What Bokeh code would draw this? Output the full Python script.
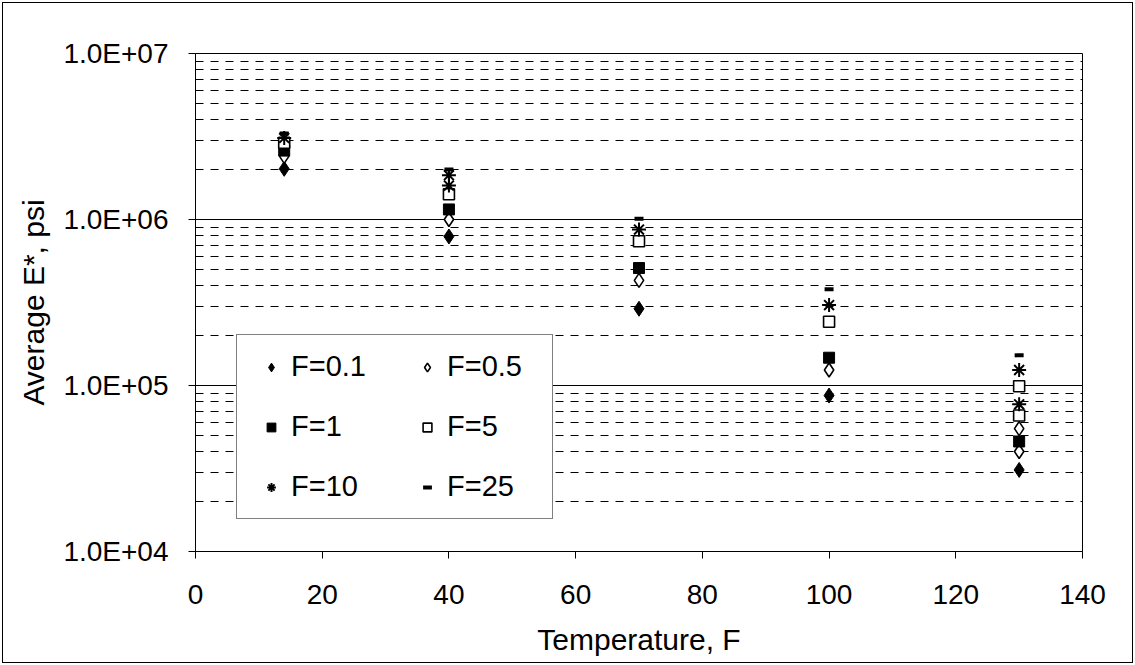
from bokeh.plotting import figure
from bokeh.models import (Range1d, FixedTicker, CustomJSTickFormatter, Legend, LegendItem)
from bokeh.embed import file_html
from bokeh.resources import INLINE

# ---- data ----
series_names = ["F=0.1", "F=0.5", "F=1", "F=5", "F=10", "F=25"]
t_f01 = [14, 40, 70, 100, 130]
e_f01 = [2.02e6, 7.9e5, 2.9e5, 8.7e4, 3.1e4]
t_f05 = [14, 40, 70, 100, 130, 130]
e_f05 = [2.4e6, 1.0e6, 4.3e5, 1.24e5, 5.5e4, 4.0e4]
t_f1 = [14, 40, 70, 100, 130]
e_f1 = [2.6e6, 1.15e6, 5.1e5, 1.47e5, 4.6e4]
t_f5 = [14, 40, 70, 100, 130, 130]
e_f5 = [2.9e6, 1.42e6, 7.4e5, 2.42e5, 9.9e4, 6.6e4]
t_f10 = [14, 40, 40, 70, 100, 130, 130]
e_f10 = [3.1e6, 1.85e6, 1.6e6, 8.7e5, 3.05e5, 1.24e5, 7.7e4]
t_f25 = [14, 40, 70, 100, 130]
e_f25 = [3.3e6, 2.0e6, 1.01e6, 3.8e5, 1.52e5]

x_ticks = [0, 20, 40, 60, 80, 100, 120, 140]
y_ticks = [1e4, 1e5, 1e6, 1e7]
y_tick_labels = ["1.0E+04", "1.0E+05", "1.0E+06", "1.0E+07"]
y_minor = [k * 10 ** e for e in (4, 5, 6) for k in range(2, 10)]

FONT = "Liberation Sans"

p = figure(width=1135, height=665, output_backend="svg", toolbar_location=None,
           y_axis_type="log", x_range=Range1d(0, 140), y_range=Range1d(1e4, 1e7),
           min_border_left=195, min_border_right=53, min_border_top=53, min_border_bottom=114)
p.styles = {"outline": "1px solid black", "outline-offset": "-3px", "background-color": "white"}
p.outline_line_color = "black"
p.outline_line_width = 1
p.background_fill_color = "white"
p.border_fill_color = None

# axes
p.xaxis.ticker = FixedTicker(ticks=x_ticks)
p.yaxis.ticker = FixedTicker(ticks=y_ticks, minor_ticks=y_minor)
p.yaxis.formatter = CustomJSTickFormatter(args=dict(yt=y_ticks, yl=y_tick_labels), code="""
for (let i = 0; i < yt.length; i++) {
  if (Math.abs(Math.log10(tick) - Math.log10(yt[i])) < 1e-6) return yl[i];
}
return "";
""")
for ax in (p.xaxis[0], p.yaxis[0]):
    ax.axis_line_color = "black"
    ax.major_tick_line_color = "black"
    ax.major_tick_out = 7
    ax.major_tick_in = 0
    ax.minor_tick_line_color = None
    ax.major_label_text_font = FONT
    ax.major_label_text_font_size = "28px"
    ax.major_label_text_color = "black"
    ax.axis_label_text_font = FONT
    ax.axis_label_text_font_size = "30px"
    ax.axis_label_text_font_style = "normal"
    ax.axis_label_text_color = "black"
p.xaxis.axis_label = "Temperature, F"
p.yaxis.axis_label = "Average E*, psi"
p.xaxis.major_label_standoff = 26
p.xaxis.axis_label_standoff = 16
p.yaxis.major_label_standoff = 20
p.yaxis.axis_label_standoff = 10

# grid
p.xgrid.grid_line_color = None
p.ygrid.grid_line_color = "black"
p.ygrid.grid_line_width = 1
p.ygrid.minor_grid_line_color = "black"
p.ygrid.minor_grid_line_width = 1
p.ygrid.minor_grid_line_dash = "8 7"

# data
r1 = p.scatter(t_f01, e_f01, marker="diamond", size=15, fill_color="black", line_color="black")
r2 = p.scatter(t_f05, e_f05, marker="diamond", size=14, fill_color="white", line_color="black", line_width=1.6)
r3 = p.scatter(t_f1, e_f1, marker="square", size=11, fill_color="black", line_color="black")
r4 = p.scatter(t_f5, e_f5, marker="square", size=11, fill_color="white", line_color="black", line_width=1.6)
r5 = p.scatter(t_f10, e_f10, marker="asterisk", size=14, line_color="black", line_width=2)
r6 = p.scatter(t_f25, e_f25, marker="dash", size=9, line_color="black", line_width=4)

renderers = [r1, r2, r3, r4, r5, r6]
legend = Legend(items=[LegendItem(label=n, renderers=[r]) for n, r in zip(series_names, renderers)],
                location=(41, 32), orientation="horizontal", ncols=2,
                padding=15, spacing=27, margin=0,
                glyph_width=38, glyph_height=22, label_standoff=1, label_width=90, label_height=20,
                label_text_font=FONT, label_text_font_size="29px", label_text_color="black",
                border_line_color="black", border_line_width=1,
                background_fill_color="white", background_fill_alpha=1.0)
p.add_layout(legend, "center")

open("out.html", "w").write(file_html(p, INLINE))
